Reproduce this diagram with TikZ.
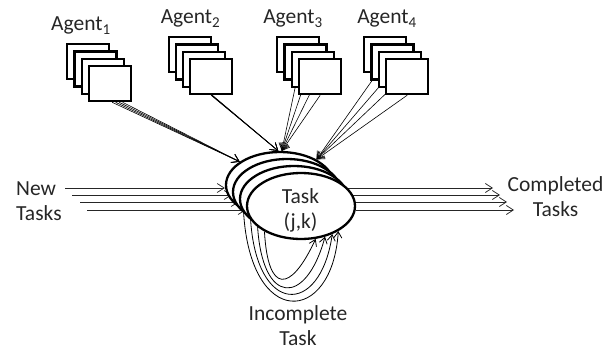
\documentclass[tikz,border=0pt]{standalone}
\usepackage{fontspec}
\setmainfont{Carlito}
\usetikzlibrary{arrows.meta,shapes.geometric,backgrounds,calc}
\begin{document}
\begin{tikzpicture}[x=1pt,y=-1pt,
  agentbox/.style={draw=black, line width=2.3pt, fill=white, minimum width=42pt,
    minimum height=35pt, anchor=north west, inner sep=0pt},
  taskell/.style={ellipse, draw=black, line width=2.3pt, fill=white,
    minimum width=108pt, minimum height=66pt, inner sep=0pt},
  lbl/.style={font=\fontsize{21.5}{25}\selectfont, inner sep=0pt, text=black!85},
  thinarrow/.style={draw=black!85, line width=0.75pt, -{Straight Barb[length=7pt,width=9pt]}},
  feed/.style={draw=black, line width=0.6pt, -{Straight Barb[length=7pt,width=9pt]}},
  loopline/.style={draw=black, line width=0.8pt, -{Straight Barb[length=6pt,width=8pt]}}
]
\useasboundingbox (0,0) rectangle (615,350);

% agent stacks
\foreach \a/\xo/\yo/\dx in {1/66/43/7.33, 2/168/36/7.0, 3/276/36/7.33, 4/363/36/7.33}{
  \foreach \k in {0,1,2,3}{
    \node[agentbox] (a\a-\k) at (\xo+\dx*\k, \yo+7.33*\k) {};
  }
}

% task ellipses, back to front
\foreach \k in {0,1,2,3}{
  \node[taskell] (e\k) at (280+7*\k, 185+7*\k) {};
}
\node[lbl, align=center, anchor=base] (tasktxt) at (300.5,228) {Task\\(j,k)};

% labels
\node[lbl, anchor=base] (ag1) at (81,31) {Agent\textsubscript{1}};
\node[lbl, anchor=base] (ag2) at (190.5,24) {Agent\textsubscript{2}};
\node[lbl, anchor=base] (ag3) at (293,24) {Agent\textsubscript{3}};
\node[lbl, anchor=base] (ag4) at (387,24) {Agent\textsubscript{4}};
\node[lbl, align=left, anchor=base west] (newt) at (16,220) {New\\Tasks};
\node[lbl, align=center, anchor=base] (donet) at (555.5,216) {Completed\\Tasks};
\node[lbl, align=center, anchor=base] (inct) at (298,345) {Incomplete\\Task};

% free ends of the task streams
\coordinate (n0) at (65,188);  \coordinate (n1) at (72,195);
\coordinate (n2) at (80,202);  \coordinate (n3) at (87,210);
\coordinate (c0) at (493,188); \coordinate (c1) at (500,195);
\coordinate (c2) at (507,202); \coordinate (c3) at (514,210);

\begin{scope}[on background layer]
  % agent feeds
  \foreach \s in {2,5.5,9,12.5}{
    \draw[feed] ([xshift=\s pt]a1-3.south) -- (e0.150);
  }
  \foreach \s in {0,0.4,0.8,1.2}{
    \draw[feed] ([xshift=\s pt]a2-3.south) -- (e0.93);
  }
  \foreach \k in {0,1,2,3}{
    \draw[feed] (a3-\k.south) -- (e0.87);
  }
  \foreach \k in {0,1,2}{
    \draw[feed] ([xshift=-8pt]a4-\k.south) -- (e0.35);
  }
  \draw[feed] (a4-3.south) -- (e0.35);

  % new and completed tasks
  \foreach \k in {0,1,2,3}{
    \draw[thinarrow] (n\k) -- (n\k -| e\k.west);
    \draw[thinarrow] (c\k -| e\k.east) -- (c\k);
  }

  % incomplete task loops
  \draw[loopline] (e0.215) .. controls ($(e0.215)+(6.4,119.5)$) and ($(e3.-34)+(-6,94)$) .. (e3.-34);
  \draw[loopline] (e1.215) .. controls ($(e1.215)+(5.4,99)$) and ($(e3.-42)+(-12,83)$) .. (e3.-42);
  \draw[loopline] (e2.215) .. controls ($(e2.215)+(4.4,82)$) and ($(e3.-52)+(-19,70)$) .. (e3.-52);
  \draw[loopline] (e3.215) .. controls ($(e3.215)+(3.4,62)$) and ($(e3.-66)+(-25.6,55)$) .. (e3.-66);
\end{scope}
\end{tikzpicture}
\end{document}
